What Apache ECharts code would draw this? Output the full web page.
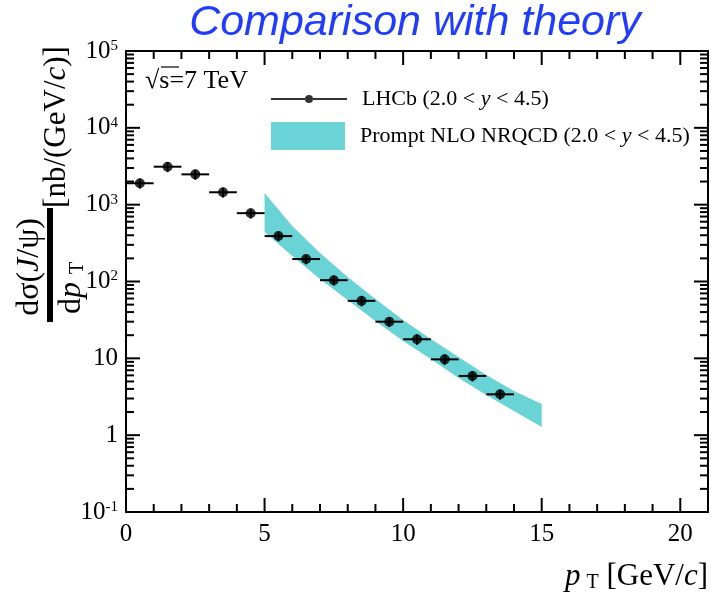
<!DOCTYPE html>
<html><head><meta charset="utf-8">
<script src="https://cdn.jsdelivr.net/npm/echarts@6/dist/echarts.min.js"></script>
<style>html,body{margin:0;padding:0;background:#fff}#c{width:711px;height:599px}</style>
</head><body><div id="c"></div>
<script>
// ---- data ----
const ptX = [0.5, 1.5, 2.5, 3.5, 4.5, 5.5, 6.5, 7.5, 8.5, 9.5, 10.5, 11.5, 12.5, 13.5];
const ptY = [1900, 3120, 2480, 1450, 775, 390, 196, 104, 56, 30, 17.7, 9.7, 5.9, 3.4];
const ptXErr = [0.5, 0.5, 0.5, 0.5, 0.5, 0.5, 0.5, 0.5, 0.5, 0.5, 0.5, 0.5, 0.5, 0.5];
const ptYErr = [280, 470, 370, 215, 115, 58, 29, 15.5, 8.5, 4.5, 2.7, 1.5, 0.9, 0.5];
const bandX = [5, 6, 7, 8, 9, 10, 11, 12, 13, 14, 15];
const bandLow = [441, 215, 108, 57.5, 30.6, 16.8, 9.8, 5.55, 3.33, 2.06, 1.28];
const bandHigh = [1419, 528, 235, 114.5, 59, 31.6, 17.9, 10.4, 6.07, 3.76, 2.55];
const xTickLabels = [0, 5, 10, 15, 20];
const xMinorTicks = [1, 2, 3, 4, 6, 7, 8, 9, 11, 12, 13, 14, 16, 17, 18, 19];
const yTickLabels = [0.1, 1, 10, 100, 1000, 10000, 100000];
const X_MIN = 0, X_MAX = 21;
const Y_MIN = 0.1, Y_MAX = 100000;
const yMinorTicks = [];
for (let k = -1; k < 5; k++) for (let m = 2; m <= 9; m++) yMinorTicks.push(m * Math.pow(10, k));

const SERIF = 'Liberation Serif';
const BAND = '#6ad3d6';
const MAJOR = 14, MINOR = 8, TW = 2, TICK_COLOR = '#000';
const chart = echarts.init(document.getElementById('c'));

function xAx(pos, labels) {
  return {
    type: 'value', position: pos, min: X_MIN, max: X_MAX, interval: 5,
    axisLine: {show: true, onZero: false, lineStyle: {color: '#000', width: 2}},
    axisTick: {show: false},
    axisLabel: labels ? {show: true, showMaxLabel: false, margin: 10, fontFamily: SERIF, fontSize: 25, color: '#000',
      formatter: function (v) { return xTickLabels.indexOf(v) >= 0 ? String(v) : ''; }} : {show: false},
    splitLine: {show: false}
  };
}
function yAx(pos, showLabels) {
  return {
    type: 'log', logBase: 10, position: pos, min: Y_MIN, max: Y_MAX, interval: 1,
    axisLine: {show: true, onZero: false, lineStyle: {color: '#000', width: 2}},
    axisTick: {show: false},
    axisLabel: showLabels ? {
      show: true, margin: 8,
      formatter: function (v) {
        const e = Math.round(Math.log10(v));
        if (e === 0) return '{b|1}';
        if (e === 1) return '{b|10}';
        return '{b|10}{s|' + e + '}';
      },
      rich: {
        b: {fontFamily: SERIF, fontSize: 25, color: '#000'},
        s: {fontFamily: SERIF, fontSize: 15, color: '#000', verticalAlign: 'top'}
      }
    } : {show: false},
    splitLine: {show: false}
  };
}

function seg(x1, y1, x2, y2) {
  return {type: 'line', shape: {x1: x1, y1: y1, x2: x2, y2: y2}, style: {stroke: '#000', lineWidth: 2}};
}
function box(x, y, w, h) {
  return {type: 'rect', shape: {x: x, y: y, width: w, height: h}, style: {fill: TICK_COLOR}};
}

const lhcbIcon = 'path://M0,9L34,9L34,11L0,11Z M42,9L76,9L76,11L42,11Z M34,10A4,4 0 1 1 42,10A4,4 0 1 1 34,10Z';
const legRich = {
  n: {fontFamily: SERIF, fontSize: 22, color: '#000'},
  f: {fontFamily: SERIF, fontSize: 22, color: '#000', padding: [0, 0, 0, 10]},
  i: {fontFamily: SERIF, fontSize: 22, color: '#000', fontStyle: 'italic'}
};

chart.setOption({
  animation: false,
  backgroundColor: '#fff',
  grid: {left: 126, top: 51, width: 582, height: 461, containLabel: false},
  xAxis: [xAx('bottom', true), xAx('top', false)],
  yAxis: [yAx('left', true), yAx('right', false)],
  legend: [
    {
      left: 271, top: 88, padding: 0, orient: 'vertical',
      itemWidth: 76, itemHeight: 8,
      data: [{name: 'LHCb', icon: lhcbIcon, itemStyle: {color: '#000'}}],
      formatter: function () { return '{f|LHCb (2.0 < }{i|y}{n| < 4.5)}'; },
      textStyle: {rich: legRich}
    },
    {
      left: 271, top: 122, padding: 0, orient: 'vertical',
      itemWidth: 74, itemHeight: 28,
      data: [{name: 'NRQCD', icon: 'rect', itemStyle: {color: BAND}}],
      formatter: function () { return '{f|Prompt NLO NRQCD (2.0 < }{i|y}{n| < 4.5)}'; },
      textStyle: {rich: legRich}
    }
  ],
  series: [
    {
      name: 'xticks', type: 'custom', xAxisIndex: 0, yAxisIndex: 0, z: 6,
      data: xTickLabels.map(v => [v, 1, MAJOR]).concat(xMinorTicks.map(v => [v, 1, MINOR])),
      encode: {x: 0, y: 1},
      renderItem: function (params, api) {
        const cs = params.coordSys;
        const px = api.coord([api.value(0), 1])[0], len = api.value(2);
        const bottom = cs.y + cs.height, top = cs.y;
        return {type: 'group', children: [box(px - TW / 2, bottom - len, TW, len), box(px - TW / 2, top, TW, len)]};
      }
    },
    {
      name: 'yticks', type: 'custom', xAxisIndex: 0, yAxisIndex: 0, z: 6,
      data: yTickLabels.map(v => [5, v, MAJOR]).concat(yMinorTicks.map(v => [5, v, MINOR])),
      encode: {x: 0, y: 1},
      renderItem: function (params, api) {
        const cs = params.coordSys;
        const py = api.coord([5, api.value(1)])[1], len = api.value(2);
        const left = cs.x, right = cs.x + cs.width;
        return {type: 'group', children: [box(left, py - TW / 2, len, TW), box(right - len, py - TW / 2, len, TW)]};
      }
    },
    {
      name: 'NRQCD', type: 'custom', xAxisIndex: 0, yAxisIndex: 0, z: 1,
      itemStyle: {color: BAND},
      data: bandX.map((x, i) => [x, bandLow[i], bandHigh[i]]),
      encode: {x: 0, y: [1, 2]},
      renderItem: function (params, api) {
        if (params.dataIndex !== 0) return null;
        const pts = [];
        for (let i = 0; i < bandX.length; i++) pts.push(api.coord([bandX[i], bandHigh[i]]));
        for (let i = bandX.length - 1; i >= 0; i--) pts.push(api.coord([bandX[i], bandLow[i]]));
        return {type: 'polygon', shape: {points: pts}, style: {fill: BAND}};
      }
    },
    {
      name: 'errors', type: 'custom', xAxisIndex: 0, yAxisIndex: 0, z: 3,
      data: ptX.map((x, i) => [x, ptY[i], ptXErr[i], ptYErr[i]]),
      encode: {x: 0, y: 1},
      renderItem: function (params, api) {
        const x = api.value(0), y = api.value(1), ex = api.value(2), ey = api.value(3);
        const l = api.coord([x - ex, y]), r = api.coord([x + ex, y]);
        const t = api.coord([x, y + ey]), b = api.coord([x, y - ey]);
        return {type: 'group', children: [seg(l[0], l[1], r[0], r[1]), seg(t[0], t[1], b[0], b[1])]};
      }
    },
    {
      name: 'LHCb', type: 'scatter', xAxisIndex: 0, yAxisIndex: 0, z: 4,
      symbol: 'circle', symbolSize: 10,
      itemStyle: {color: '#000'},
      data: ptX.map((x, i) => [x, ptY[i]])
    }
  ],
  graphic: [
    {type: 'text', x: 415, y: 23, z: 10, style: {text: 'Comparison with theory', fontFamily: 'Liberation Sans', fontStyle: 'italic', fontSize: 43, fill: '#1f3cff', align: 'center', verticalAlign: 'middle'}},
    {type: 'text', x: 145, y: 81, z: 10, style: {text: '\u221As=7 TeV', fontFamily: SERIF, fontSize: 26, fill: '#000', align: 'left', verticalAlign: 'middle'}},
    {type: 'line', z: 10, shape: {x1: 161, y1: 67, x2: 179, y2: 67}, style: {stroke: '#000', lineWidth: 1.2}},
    {type: 'text', x: 30, y: 267, rotation: Math.PI / 2, z: 10, style: {
      text: '{n|d\u03C3(}{i|J}{n|/\u03C8)}', align: 'center', verticalAlign: 'middle',
      rich: {n: {fontFamily: SERIF, fontSize: 32, color: '#000'}, i: {fontFamily: SERIF, fontSize: 32, fontStyle: 'italic', color: '#000'}}}},
    {type: 'rect', z: 10, shape: {x: 47, y: 208, width: 6, height: 114}, style: {fill: '#000'}},
    {type: 'text', x: 72, y: 288, rotation: Math.PI / 2, z: 10, style: {
      text: '{n|d}{i|p}{t|T}', align: 'center', verticalAlign: 'middle',
      rich: {n: {fontFamily: SERIF, fontSize: 32, color: '#000'}, i: {fontFamily: SERIF, fontSize: 32, fontStyle: 'italic', color: '#000'},
             t: {fontFamily: SERIF, fontSize: 20, color: '#000', verticalAlign: 'bottom', padding: [0, 0, 0, 8]}}}},
    {type: 'text', x: 57, y: 127, rotation: Math.PI / 2, z: 10, style: {
      text: '{n|[nb/(GeV/}{i|c}{n|)]}', align: 'center', verticalAlign: 'middle',
      rich: {n: {fontFamily: SERIF, fontSize: 31, color: '#000'}, i: {fontFamily: SERIF, fontSize: 31, fontStyle: 'italic', color: '#000'}}}},
    {type: 'text', x: 708, y: 577, z: 10, style: {
      text: '{i|p}{t|T}{n| [GeV/}{i|c}{n|]}', align: 'right', verticalAlign: 'middle',
      rich: {n: {fontFamily: SERIF, fontSize: 31, color: '#000'}, i: {fontFamily: SERIF, fontSize: 31, fontStyle: 'italic', color: '#000'},
             t: {fontFamily: SERIF, fontSize: 20, color: '#000', verticalAlign: 'bottom', padding: [0, 0, 0, 6]}}}}
  ]
});
</script></body></html>
